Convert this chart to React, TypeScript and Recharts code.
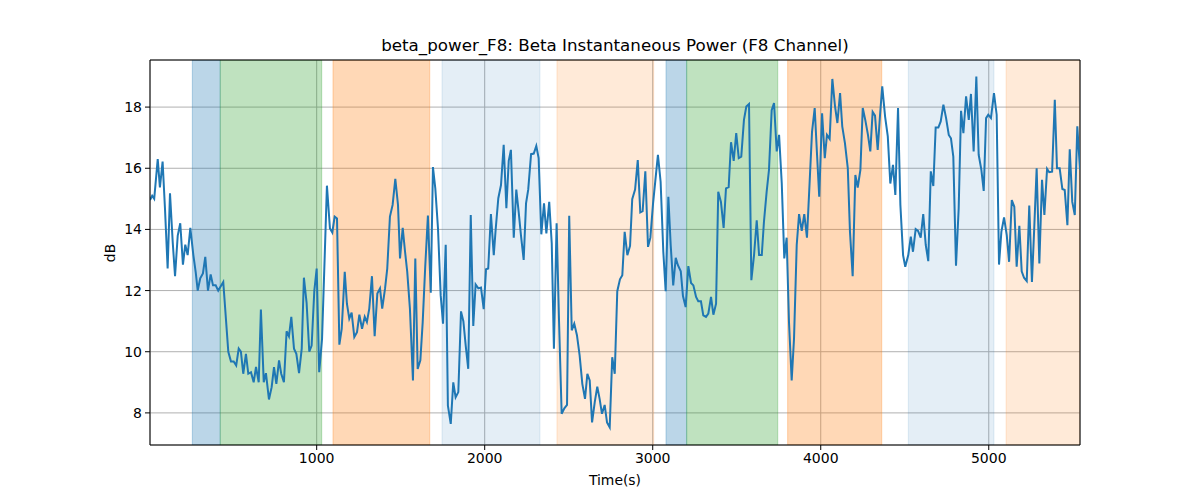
import { LineChart, Line, XAxis, YAxis, CartesianGrid, ReferenceArea, ReferenceLine } from 'recharts'

// ─── Data ─────────────────────────────────────────────────────────────────
const TIME_S = [
  8, 21, 33, 54, 67, 83, 97, 113, 127, 143,
  157, 173, 188, 204, 218, 232, 248, 266, 280, 292,
  307, 323, 337, 353, 369, 383, 399, 414, 430, 444,
  474, 490, 506, 521, 536, 549, 563, 579, 593, 609,
  625, 639, 655, 668, 685, 698, 716, 732, 746, 760,
  776, 789, 805, 821, 835, 849, 865, 879, 895, 911,
  924, 940, 956, 970, 986, 1000, 1015, 1032, 1048, 1061,
  1079, 1093, 1107, 1121, 1135, 1149, 1167, 1180, 1194, 1208,
  1224, 1240, 1254, 1270, 1286, 1299, 1313, 1329, 1345, 1361,
  1377, 1390, 1407, 1420, 1436, 1452, 1468, 1484, 1496, 1512,
  1526, 1539, 1555, 1573, 1587, 1601, 1617, 1631, 1646, 1662,
  1679, 1692, 1706, 1722, 1738, 1752, 1768, 1781, 1798, 1813,
  1827, 1843, 1859, 1873, 1887, 1902, 1917, 1932, 1946, 1962,
  1978, 1994, 2008, 2021, 2037, 2054, 2065, 2081, 2097, 2113,
  2129, 2143, 2156, 2173, 2188, 2202, 2216, 2232, 2246, 2259,
  2276, 2292, 2307, 2321, 2337, 2353, 2367, 2384, 2399, 2412,
  2428, 2442, 2458, 2474, 2490, 2503, 2518, 2533, 2549, 2565,
  2581, 2597, 2611, 2625, 2639, 2655, 2670, 2684, 2698, 2714,
  2728, 2744, 2759, 2774, 2789, 2805, 2819, 2833, 2849, 2865,
  2878, 2895, 2911, 2926, 2940, 2956, 2972, 2986, 3002, 3015,
  3031, 3047, 3063, 3077, 3093, 3107, 3122, 3137, 3150, 3167,
  3180, 3196, 3212, 3228, 3242, 3258, 3271, 3287, 3301, 3317,
  3331, 3347, 3361, 3377, 3390, 3406, 3422, 3436, 3452, 3466,
  3482, 3497, 3512, 3527, 3543, 3557, 3573, 3587, 3603, 3619,
  3633, 3649, 3662, 3678, 3692, 3708, 3722, 3738, 3752, 3768,
  3783, 3797, 3811, 3827, 3841, 3857, 3871, 3887, 3902, 3918,
  3934, 3948, 3964, 3978, 3991, 4008, 4024, 4037, 4053, 4069,
  4085, 4099, 4115, 4128, 4144, 4161, 4174, 4190, 4206, 4220,
  4236, 4250, 4265, 4281, 4295, 4309, 4323, 4339, 4353, 4366,
  4383, 4399, 4414, 4430, 4444, 4460, 4474, 4490, 4503, 4521,
  4536, 4549, 4565, 4579, 4595, 4610, 4625, 4640, 4655, 4670,
  4684, 4700, 4714, 4730, 4746, 4762, 4775, 4789, 4805, 4821,
  4835, 4849, 4865, 4881, 4894, 4910, 4926, 4940, 4956, 4970,
  4984, 4997, 5013, 5031, 5047, 5061, 5075, 5091, 5107, 5121,
  5137, 5152, 5166, 5182, 5196, 5210, 5226, 5241, 5257, 5271,
  5285, 5301, 5317, 5331, 5347, 5360, 5377, 5393, 5406, 5422,
  5438, 5452, 5468, 5482, 5497, 5512, 5527, 5543,
]

const BETA_DB = [
  14.96, 15.1, 15.0, 16.3, 15.37, 16.22, 14.7, 12.72, 15.18, 13.6,
  12.47, 13.8, 14.2, 12.85, 13.5, 13.16, 14.05, 13.16, 12.6, 12.0,
  12.4, 12.56, 13.1, 12.0, 12.53, 12.17, 12.17, 12.0, 12.15, 12.28,
  10.0, 9.68, 9.68, 9.55, 10.1, 10.0, 9.28, 9.93, 9.28, 9.33,
  9.0, 9.5, 9.0, 11.38, 9.0, 9.3, 8.44, 8.84, 9.5, 8.95,
  9.72, 9.28, 9.0, 10.67, 10.5, 11.14, 10.1, 9.93, 9.3, 10.1,
  12.42, 11.6, 10.0, 10.2, 12.0, 12.72, 9.33, 10.43, 13.16, 15.43,
  14.03, 13.9, 14.42, 14.36, 10.23, 10.75, 12.61, 11.57, 11.08, 11.28,
  10.48, 10.64, 11.21, 10.75, 11.14, 10.97, 11.41, 12.47, 10.51, 11.9,
  12.07, 11.41, 12.07, 12.72, 14.42, 14.8, 15.65, 14.8, 13.05, 14.05,
  13.27, 12.61, 11.4, 9.06, 13.05, 9.44, 9.72, 10.97, 12.78, 14.45,
  11.93, 16.04, 15.34, 14.03, 11.85, 10.92, 13.5, 8.24, 7.64, 9.0,
  8.51, 8.68, 11.32, 11.0, 10.2, 9.44, 14.47, 10.84, 12.2, 12.07,
  12.1, 11.39, 12.7, 12.72, 14.5, 13.16, 13.98, 15.02, 15.45, 16.77,
  14.69, 16.24, 16.6, 13.73, 15.3, 14.58, 13.8, 13.0, 14.85, 15.3,
  16.46, 16.48, 16.73, 16.33, 13.84, 14.85, 13.87, 14.9, 13.54, 10.1,
  14.2, 11.08, 7.97, 8.15, 8.26, 14.45, 10.7, 10.92, 10.54, 9.88,
  8.95, 8.46, 9.28, 9.06, 7.69, 8.35, 8.86, 8.46, 7.97, 8.26,
  7.69, 7.53, 9.82, 9.28, 11.98, 12.37, 12.5, 13.92, 13.16, 13.46,
  14.99, 15.3, 16.27, 14.56, 14.6, 15.9, 13.43, 13.73, 14.85, 15.56,
  16.44, 15.56, 13.27, 11.98, 15.07, 13.49, 12.17, 13.07, 12.83, 12.63,
  11.82, 11.46, 12.8, 12.25, 12.17, 11.79, 11.65, 11.65, 11.19, 11.14,
  11.25, 11.79, 11.21, 11.57, 15.23, 14.9, 14.05, 15.34, 15.38, 16.85,
  16.24, 17.15, 16.33, 16.38, 17.58, 18.02, 18.1, 12.34, 13.16, 14.3,
  13.16, 13.16, 14.25, 15.23, 15.95, 17.9, 18.13, 16.55, 17.09, 15.5,
  13.05, 13.73, 10.97, 9.06, 10.43, 13.49, 14.5, 13.95, 14.5, 13.73,
  15.56, 17.18, 17.97, 16.44, 15.07, 17.8, 16.33, 17.09, 16.96, 18.92,
  18.02, 17.48, 18.46, 17.37, 16.82, 16.0, 13.92, 12.47, 15.78, 15.37,
  15.95, 17.97, 17.58, 17.09, 16.55, 17.84, 17.72, 16.6, 17.75, 18.68,
  17.69, 17.04, 15.5, 16.11, 15.13, 17.97, 14.8, 13.16, 12.78, 13.16,
  13.76, 13.27, 14.01, 13.95, 13.73, 14.5, 13.49, 12.96, 15.9, 15.42,
  17.33, 17.33, 17.53, 18.08, 17.64, 17.09, 16.98, 16.38, 12.81, 14.69,
  17.88, 17.15, 18.35, 17.58, 18.43, 16.55, 19.0, 16.44, 15.95, 15.26,
  17.64, 17.75, 17.64, 18.46, 17.75, 12.85, 13.92, 14.39, 13.81, 12.94,
  14.96, 14.74, 12.78, 14.12, 12.63, 12.42, 12.31, 14.78, 12.28, 14.09,
  16.0, 12.89, 15.62, 14.47, 15.98, 15.87, 15.89, 18.24, 16.0, 16.0,
  15.32, 15.29, 14.14, 16.62, 14.9, 14.47, 17.37, 15.95,
]

// shaded segments (seconds) and their kind
const SPAN_START = [260, 426, 1097, 1746, 2430, 3079, 3202, 3803, 4521, 5103]
const SPAN_END = [426, 1030, 1673, 2329, 3006, 3202, 3744, 4363, 5031, 5543]
const SPAN_KIND = ['blue', 'green', 'orange', 'paleBlue', 'paleOrange', 'blue', 'green', 'orange', 'paleBlue', 'paleOrange']

const X_TICKS = [1000, 2000, 3000, 4000, 5000]
const Y_TICKS = [8, 10, 12, 14, 16, 18]
const X_DOMAIN: [number, number] = [8, 5543]
const Y_DOMAIN: [number, number] = [6.95, 19.54]

// ─── Styles ───────────────────────────────────────────────────────────────
const SPAN_STYLE: Record<string, { fill: string; opacity: number }> = {
  blue: { fill: '#1f77b4', opacity: 0.3 },
  green: { fill: '#2ca02c', opacity: 0.3 },
  orange: { fill: '#ff7f0e', opacity: 0.3 },
  paleBlue: { fill: '#1f77b4', opacity: 0.12 },
  paleOrange: { fill: '#ff7f0e', opacity: 0.16 },
}

const FONT = '"DejaVu Sans", Verdana, sans-serif'
const tickStyle = { fill: '#000', fontSize: 14, fontFamily: FONT }

const data = TIME_S.slice(0, Math.min(TIME_S.length, BETA_DB.length)).map((t, i) => ({ t, db: BETA_DB[i] }))

export default function App() {
  return (
    <div style={{ position: 'relative', width: 1200, height: 500, background: '#fff', fontFamily: FONT }}>
      <style>{'body{margin:0}'}</style>

      {/* Title */}
      <div
        style={{
          position: 'absolute',
          left: 150,
          width: 930,
          top: 35,
          textAlign: 'center',
          fontSize: 16.7,
          color: '#000',
          whiteSpace: 'nowrap',
        }}
      >
        beta_power_F8: Beta Instantaneous Power (F8 Channel)
      </div>

      <LineChart width={1200} height={500} data={data} margin={{ top: 60, right: 120, left: 100, bottom: 25 }}>
        <CartesianGrid stroke="#b0b0b0" strokeWidth={1} />
        {SPAN_START.map((s, i) => {
          const st = SPAN_STYLE[SPAN_KIND[i]]
          return (
            <ReferenceArea
              key={i}
              x1={s}
              x2={SPAN_END[i]}
              y1={Y_DOMAIN[0]}
              y2={Y_DOMAIN[1]}
              fill={st.fill}
              fillOpacity={st.opacity}
              stroke={st.fill}
              strokeOpacity={st.opacity}
              ifOverflow="hidden"
            />
          )
        })}
        <XAxis
          dataKey="t"
          type="number"
          domain={X_DOMAIN}
          ticks={X_TICKS}
          allowDataOverflow
          height={30}
          stroke="#000"
          tick={tickStyle}
          tickSize={5}
          tickMargin={3}
        />
        <YAxis
          type="number"
          domain={Y_DOMAIN}
          ticks={Y_TICKS}
          allowDataOverflow
          width={50}
          stroke="#000"
          tick={tickStyle}
          tickSize={5}
          tickMargin={3}
        />
        <ReferenceLine y={Y_DOMAIN[1]} stroke="#000" strokeWidth={1} />
        <ReferenceLine x={X_DOMAIN[1]} stroke="#000" strokeWidth={1} />
        <Line
          type="linear"
          dataKey="db"
          stroke="#1f77b4"
          strokeWidth={2}
          dot={false}
          activeDot={false}
          isAnimationActive={false}
        />
      </LineChart>

      {/* Axis labels */}
      <div
        style={{
          position: 'absolute',
          left: 150,
          width: 930,
          top: 472,
          textAlign: 'center',
          fontSize: 13.9,
          color: '#000',
        }}
      >
        Time(s)
      </div>
      <div
        style={{
          position: 'absolute',
          left: 110,
          top: 253,
          transform: 'translate(-50%, -50%) rotate(-90deg)',
          fontSize: 13.9,
          color: '#000',
          whiteSpace: 'nowrap',
        }}
      >
        dB
      </div>
    </div>
  )
}
